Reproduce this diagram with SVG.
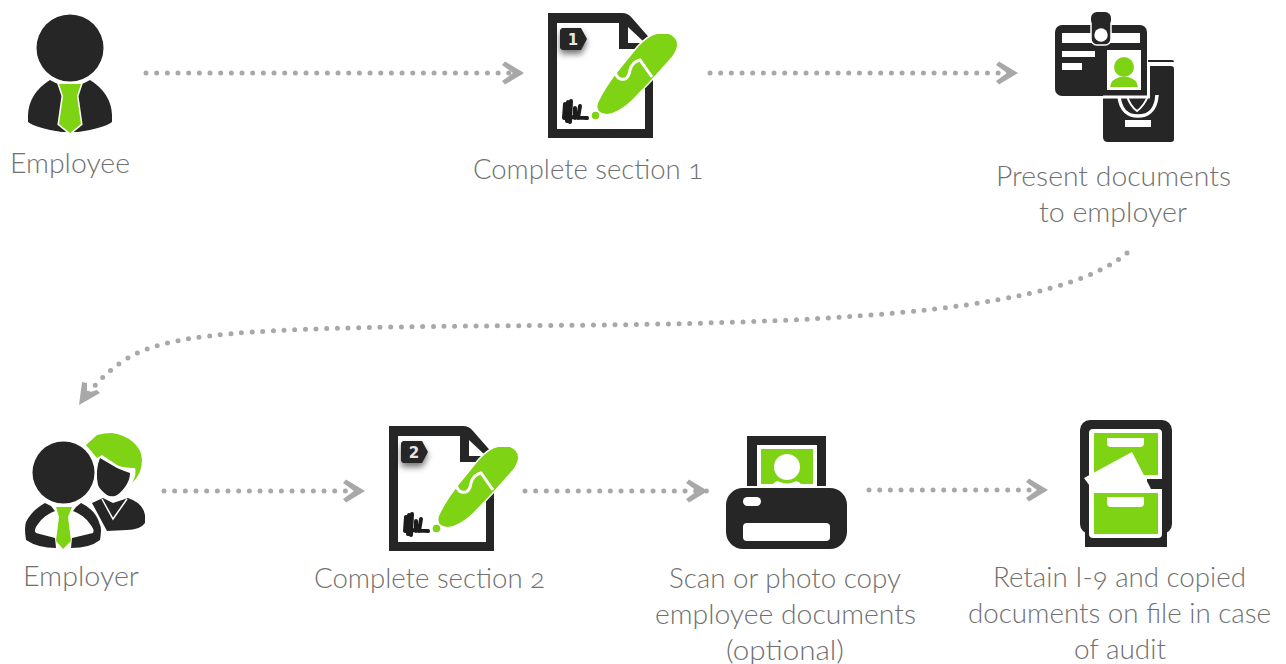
<svg xmlns="http://www.w3.org/2000/svg" xmlns:xlink="http://www.w3.org/1999/xlink" width="1286" height="664" viewBox="0 0 1286 664">
<style>
.lbl{font-family:"Lato","Open Sans","Liberation Sans",sans-serif;font-size:27px;font-weight:300;fill:#707070;font-variant-numeric:oldstyle-nums;font-feature-settings:"onum"}
.k{fill:#262626}.g{fill:#7ed314}.w{fill:#fff}
.dot{fill:none;stroke:#a8a8a8;stroke-width:5;stroke-linecap:round;stroke-dasharray:0 10.67}
.num{font-family:"DejaVu Sans",sans-serif;font-size:15px;font-weight:700;fill:#e6e6e6;text-anchor:middle}
</style>
<defs>
<marker id="chev" markerUnits="userSpaceOnUse" markerWidth="30" markerHeight="30" viewBox="-26 -15 30 30" refX="0" refY="0" orient="auto">
<path d="M-22,-8 L-19,-11.500 L0,0 L-19,11.500 L-22,8 L-11,0 Z" fill="#a8a8a8"/>
</marker>
<g id="doc">
<path class="k" d="M548,13H622Q628,13 632,18L653,42V138H548Z"/>
<path class="w" d="M557,23H619V49H645V129H557Z"/>
<path class="w" d="M628,27L645,43H628Z"/>
<path d="M560,30L562,28H581L587,39L581,50H562L560,48Z" fill="#262626" style="filter:drop-shadow(0 4px 3px rgba(0,0,0,.55))"/>
<path d="M565,104L564,118M568,102L567,121M571,101L570,122M575,108V118M580,106L578,118M572,117L587,118" stroke="#1c1c1c" stroke-width="4" fill="none" stroke-linecap="round"/>
<circle class="g" cx="595.500" cy="115.500" r="3.800"/>
<path class="g" stroke="#fff" stroke-width="3" paint-order="stroke" d="M598,103Q604,90 616,74L638,47Q648,36 657,34L669,34Q678,38 677,46Q675,54 669,60L651,80L632,100Q618,113 607,114Q595,113 598,103Z"/>
<path d="M615,71Q617,81 625,79Q629,77 630,70Q632,62 640,60L652,77" fill="none" stroke="#fff" stroke-width="3"/>
</g>
</defs>
<g id="connectors">
<path class="dot" d="M146,73H524" marker-end="url(#chev)"/>
<path class="dot" d="M710,73H1018" marker-end="url(#chev)"/>
<path class="dot" d="M1127,253C1060,310 850,322 600,325C350,327 210,327 150,348C120,358 100,378 82,401"/>
<path d="M79,405L82,382L87,383L87,393L97,390L100,393Z" fill="#a8a8a8"/>
<path class="dot" d="M164,491H365" marker-end="url(#chev)"/>
<path class="dot" d="M525,491H708" marker-end="url(#chev)"/>
<path class="dot" d="M869,490H1048" marker-end="url(#chev)"/>
</g>
<g id="employee">
<path class="k" d="M50,80Q29,93 28,115V122Q36,128 62,132L70,132L78,132Q104,128 112,122V115Q111,93 90,80Q70,92 50,80Z"/>
<circle class="k" cx="70" cy="48" r="33.500"/>
<path class="g" stroke="#fff" stroke-width="3" paint-order="stroke" d="M59,84H81L77,96L81,124L70,133L59,124L63,96Z"/>
<text class="lbl" x="10" y="173" textLength="120" lengthAdjust="spacingAndGlyphs">Employee</text>
</g>
<g id="section1">
<use xlink:href="#doc" href="#doc"/>
<text class="num" x="573" y="45">1</text>
<text class="lbl" x="473" y="179" textLength="230" lengthAdjust="spacingAndGlyphs">Complete section 1</text>
</g>
<g id="present">
<path class="k" d="M1148,60H1172Q1174,60 1174,62H1148Z"/>
<path class="k" d="M1103,66H1171Q1174,66 1174,69V139Q1174,142 1171,142H1108Q1103,142 1103,137Z"/>
<path d="M1119,95C1120,112 1130,116 1138,116C1146,116 1156,112 1157,95" fill="none" stroke="#fff" stroke-width="3.500"/>
<path d="M1127,96Q1130,106 1137,111Q1144,106 1148,96" fill="none" stroke="#fff" stroke-width="2"/>
<rect class="w" x="1125" y="120" width="26" height="7"/>
<rect class="k" x="1055" y="25" width="92" height="71" rx="7"/>
<path d="M1103,97H1148.500V64" fill="none" stroke="#fff" stroke-width="3"/>
<rect class="w" x="1062" y="33" width="78" height="10"/>
<rect class="k" x="1091" y="12" width="20" height="33" rx="6" stroke="#fff" stroke-width="1.500"/>
<rect class="k" x="1091" y="12" width="20" height="14" rx="6"/>
<circle class="w" cx="1101" cy="35" r="6.700"/>
<rect class="w" x="1062" y="51" width="33" height="6"/>
<rect class="w" x="1062" y="63" width="20" height="7"/>
<rect class="w" x="1107" y="50" width="34" height="40"/>
<circle class="g" cx="1124" cy="67" r="10"/>
<path class="g" d="M1110,87Q1111,79 1120,77H1128Q1137,79 1138,87Z"/>
<text class="lbl" x="996" y="186" textLength="235" lengthAdjust="spacingAndGlyphs">Present documents</text>
<text class="lbl" x="1039" y="222" textLength="148" lengthAdjust="spacingAndGlyphs">to employer</text>
</g>
<g id="employer">
<path class="g" d="M86,445L97,435Q104,433 112,433Q125,435 133,442Q142,450 142,460Q142,474 132,483Q137,474 135,468Q122,468 117,465L102,455L97,458Z"/>
<path class="k" d="M100,458L117,468Q124,471 130,473Q130,480 125,487Q120,494 115,496Q110,497 107,495Q100,490 98,485Q95,470 100,458Z"/>
<path class="k" d="M92,503L103,498L113,503L128,498Q143,503 145,515V523Q140,530 127,530L107,531Z"/>
<path d="M102,499L113,519L127,499" fill="none" stroke="#fff" stroke-width="1.500"/>
<path class="k" d="M45,503L51,506L55,511Q44,515 38,524Q33,530 36,533L55,538L56,548Q38,548 26,540Q24,528 26,522Q32,510 45,503Z" stroke="#fff" stroke-width="1" paint-order="stroke"/>
<path class="k" d="M81,503L76,507L73,511Q84,515 90,524Q95,530 93,533L72,538L71,548Q90,548 100,540Q102,528 100,525Q96,510 81,503Z" stroke="#fff" stroke-width="3" paint-order="stroke"/>
<circle class="k" cx="63.500" cy="472.500" r="31" stroke="#fff" stroke-width="3" paint-order="stroke"/>
<path class="g" d="M56,507H72L68,517L71,541L63,549L56,541L59,517Z"/>
<text class="lbl" x="23" y="586" textLength="116" lengthAdjust="spacingAndGlyphs">Employer</text>
</g>
<g id="section2">
<use xlink:href="#doc" href="#doc" transform="translate(-159,413)"/>
<text class="num" x="414" y="458">2</text>
<text class="lbl" x="314" y="588" textLength="231" lengthAdjust="spacingAndGlyphs">Complete section 2</text>
</g>
<g id="scan">
<rect class="k" x="747" y="436" width="79" height="50"/>
<rect class="w" x="757" y="445" width="60" height="43"/>
<rect class="g" x="761" y="449" width="52" height="35"/>
<circle class="w" cx="787" cy="467" r="13"/>
<path class="w" d="M773,484Q776,480 780,482Q787,485 794,482Q798,480 801,484Z"/>
<rect class="k" x="726" y="488" width="121" height="61" rx="17"/>
<rect class="w" x="743" y="497" width="18" height="9" rx="4.500"/>
<rect class="w" x="743" y="523" width="87" height="18" rx="4"/>
<text class="lbl" x="669" y="588" textLength="232" lengthAdjust="spacingAndGlyphs">Scan or photo copy</text>
<text class="lbl" x="655" y="624" textLength="261" lengthAdjust="spacingAndGlyphs">employee documents</text>
<text class="lbl" x="726" y="660" textLength="118" lengthAdjust="spacingAndGlyphs">(optional)</text>
</g>
<g id="retain">
<rect class="k" x="1085" y="500" width="82" height="47"/>
<rect class="k" x="1080" y="420" width="92" height="114" rx="10"/>
<rect class="w" x="1089" y="429" width="73" height="109" rx="4"/>
<rect class="g" x="1094" y="433" width="64" height="42"/>
<rect class="k" x="1147" y="479" width="15" height="10"/>
<rect class="g" x="1094" y="493" width="64" height="41"/>
<path class="w" d="M1107,438H1144V443Q1144,447 1140,447H1111Q1107,447 1107,443Z"/>
<path class="w" d="M1107,497H1144V503Q1144,507 1140,507H1111Q1107,507 1107,503Z"/>
<path class="w" d="M1084,478L1132,452L1151,489H1092Z"/>
<text class="lbl" x="993" y="587" textLength="253" lengthAdjust="spacingAndGlyphs">Retain I-9 and copied</text>
<text class="lbl" x="968" y="623" textLength="303" lengthAdjust="spacingAndGlyphs">documents on file in case</text>
<text class="lbl" x="1074" y="659" textLength="92" lengthAdjust="spacingAndGlyphs">of audit</text>
</g>
</svg>
